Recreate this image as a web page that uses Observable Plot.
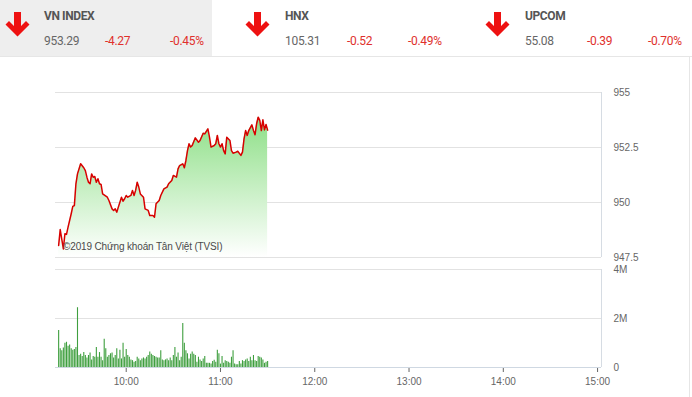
<!DOCTYPE html>
<html>
<head>
<meta charset="utf-8">
<script src="https://cdn.jsdelivr.net/npm/d3@7"></script>
<script src="https://cdn.jsdelivr.net/npm/@observablehq/plot@0.6"></script>
<style>
  html, body { margin: 0; padding: 0; }
  body { width: 692px; height: 397px; overflow: hidden; background: #fff; position: relative;
         font-family: Roboto, "Liberation Sans", Arial, sans-serif; }
  #hdr { position: absolute; left: 0; top: 0; width: 692px; height: 56px; border-bottom: 1px solid #e6e6e6; }
  .cell { position: absolute; top: 0; height: 56px; }
  .cell.active { background: #eeeeee; }
  .cell svg.arrow { position: absolute; left: 5px; top: 11px; }
  .name { position: absolute; left: 44px; top: 9px; font-size: 12px; font-weight: bold; color: #555; letter-spacing: -0.4px; }
  .val { position: absolute; top: 34px; font-size: 12px; color: #666; letter-spacing: -0.3px; }
  .chg { position: absolute; top: 34px; font-size: 12px; color: #e0302c; letter-spacing: -0.3px; }
  #border { position: absolute; left: 689px; top: 57px; width: 1px; height: 340px; background: #e6e6e6; }
  #price, #vol { position: absolute; left: 0; }
  #price { top: 80px; z-index: 2; }
  #vol { top: 260px; z-index: 1; }
  #wm { position: absolute; left: 63px; top: 241px; font-size: 10px; color: #4a4a4a; white-space: nowrap; z-index: 3;
        font-family: "Liberation Sans", Arial, sans-serif; letter-spacing: -0.15px; }
  svg text { font-family: "Liberation Sans", Arial, sans-serif; }
</style>
</head>
<body>
<div id="hdr"></div>
<div id="border"></div>
<div id="price"></div>
<div id="vol"></div>
<div id="wm">©2019 Chứng khoán Tân Việt (TVSI)</div>
<script>
// ---------- header data ----------
const indexNames = ["VN INDEX", "HNX", "UPCOM"];
const indexValues = ["953.29", "105.31", "55.08"];
const indexChanges = ["-4.27", "-0.52", "-0.39"];
const indexPercents = ["-0.45%", "-0.49%", "-0.70%"];

// ---------- price data (VN-Index intraday) ----------
const priceTimes = ["9:17","9:18","9:20","9:21","9:22","9:23","9:25","9:26","9:27","9:28","9:29","9:31","9:33","9:34","9:35","9:36","9:37","9:38","9:39","9:40","9:41","9:42","9:43","9:44","9:45","9:48","9:49","9:51","9:52","9:53","9:54","9:55","9:57","9:58","9:59","10:00","10:01","10:03","10:04","10:05","10:06","10:07","10:08","10:09","10:11","10:12","10:14","10:15","10:17","10:18","10:19","10:21","10:22","10:24","10:26","10:27","10:29","10:30","10:32","10:33","10:34","10:36","10:37","10:38","10:39","10:40","10:41","10:42","10:44","10:46","10:47","10:49","10:50","10:52","10:53","10:54","10:56","10:57","10:58","10:59","11:00","11:01","11:02","11:03","11:04","11:06","11:07","11:08","11:10","11:11","11:13","11:14","11:15","11:16","11:17","11:18","11:20","11:21","11:22","11:23","11:24","11:25","11:26","11:27","11:28","11:29","11:30"];
const priceValues = [948.05,948.77,947.89,948.58,948.55,948.88,949.49,949.82,949.86,950.85,951.30,951.76,951.58,951.45,951.15,950.92,950.85,951.30,951.15,951.18,950.92,951.08,950.85,950.82,950.39,950.24,950.09,949.71,949.64,949.71,949.56,949.79,950.24,950.06,950.17,950.32,950.24,950.32,950.55,950.32,950.55,950.92,950.70,950.39,950.24,949.71,949.64,949.41,949.41,949.33,949.94,950.09,950.32,950.62,950.70,950.85,951.00,951.23,951.15,951.53,951.68,951.76,951.58,951.91,952.36,952.67,952.52,952.59,952.94,952.74,952.82,953.15,953.12,953.35,952.97,952.52,952.59,952.67,953.05,952.67,952.52,952.67,952.36,952.21,952.97,952.82,952.36,952.24,952.29,952.33,952.14,952.29,952.89,953.27,953.05,953.27,953.53,953.27,953.08,953.58,953.88,953.73,953.27,953.76,953.30,953.55,953.29];

// ---------- volume data (millions, one bar per minute from 9:17) ----------
const volumeStart = "9:17";
const volumeValues = [1.51,0.77,0.68,0.80,0.99,1.03,0.87,0.92,0.77,0.70,0.73,0.82,2.44,0.49,0.54,0.45,0.61,0.49,0.39,0.49,0.59,0.31,0.45,0.42,0.82,0.42,0.61,0.42,0.28,1.15,0.77,0.42,0.49,0.56,0.59,0.39,0.49,0.77,0.35,0.70,0.35,0.99,0.42,0.73,0.49,0.42,0.31,0.28,0.21,0.25,0.42,0.35,0.28,0.35,0.39,0.35,0.42,0.49,0.63,0.54,0.49,0.45,0.42,0.39,0.39,0.68,0.31,0.28,0.31,0.35,0.28,0.39,0.28,0.49,0.82,0.42,0.59,0.28,0.42,1.80,0.99,0.68,0.56,0.35,0.54,0.63,0.54,0.49,0.21,0.42,0.31,0.25,0.35,0.45,0.17,0.17,0.17,0.14,0.25,0.30,0.21,0.70,0.56,0.14,0.45,0.17,0.28,0.25,0.21,0.17,0.42,0.68,0.14,0.11,0.11,0.25,0.14,0.28,0.25,0.31,0.35,0.25,0.42,0.28,0.49,0.28,0.25,0.45,0.42,0.39,0.31,0.17,0.21,0.25];

// ---------- axis ticks ----------
const priceTicks = [947.5, 950, 952.5, 955];
const volumeTicks = [0, 2, 4];
const timeTicks = ["10:00", "11:00", "12:00", "13:00", "14:00", "15:00"];
const sessionStart = "9:15";
const sessionEnd = "15:00";

// ---------- helpers ----------
const toDate = s => { const [h, m] = s.split(":").map(Number); return new Date(Date.UTC(2019, 0, 2, h, m)); };
const xDomain = [toDate(sessionStart), new Date(+toDate(sessionEnd) + 150000)];
const priceData = priceTimes.map((t, i) => ({time: toDate(t), value: priceValues[i]}));
const vStart = toDate(volumeStart);
const volData = volumeValues.map((v, i) => ({time: new Date(+vStart + i * 60000), value: v}));

// ---------- header ----------
const hdr = document.getElementById("hdr");
const cellLeft = [0, 240, 480];
const chgLeft = [[105, 170], [347, 408], [587, 648]];
indexNames.forEach((n, i) => {
  const c = document.createElement("div");
  c.className = "cell" + (i === 0 ? " active" : "");
  c.style.left = cellLeft[i] + "px";
  c.style.width = (i === 0 ? 212 : 200) + "px";
  c.innerHTML = `<svg class="arrow" width="26" height="28" viewBox="0 0 26 28">
     <path d="M9,1 H16 V15 L21,10 L24.5,13.5 L12.5,25.5 L0.5,13.5 L4,10 L9,15 Z" fill="#ee1111"/></svg>`;
  hdr.appendChild(c);
  const nm = document.createElement("div"); nm.className = "name"; nm.textContent = n;
  nm.style.left = (cellLeft[i] + 44 + (i ? 1 : 0)) + "px"; hdr.appendChild(nm);
  const v = document.createElement("div"); v.className = "val"; v.textContent = indexValues[i];
  v.style.left = (cellLeft[i] + 44 + (i ? 1 : 0)) + "px"; hdr.appendChild(v);
  const ch = document.createElement("div"); ch.className = "chg"; ch.textContent = indexChanges[i];
  ch.style.left = chgLeft[i][0] + "px"; hdr.appendChild(ch);
  const pc = document.createElement("div"); pc.className = "chg"; pc.textContent = indexPercents[i];
  pc.style.left = chgLeft[i][1] + "px"; hdr.appendChild(pc);
});

// ---------- price chart ----------
const pricePlot = Plot.plot({
  width: 692, height: 188,
  marginLeft: 55, marginRight: 91, marginTop: 12, marginBottom: 11,
  style: {background: "transparent", fontSize: "10px", color: "#666"},
  x: {type: "utc", domain: xDomain, axis: null},
  y: {domain: [947.5, 955], ticks: priceTicks, axis: "right", tickSize: 0, tickPadding: 12,
      tickFormat: d => String(d), label: null},
  marks: [
    Plot.ruleY(priceTicks, {stroke: "#e2e2e2", strokeWidth: 1}),
    Plot.ruleX([xDomain[1]], {stroke: "#d6dce3"}),
    Plot.areaY(priceData, {x: "time", y1: 947.5, y2: "value", fill: "url(#priceGrad)"}),
    Plot.lineY(priceData, {x: "time", y: "value", stroke: "#d80000", strokeWidth: 1.5})
  ]
});
const ps = d3.select(pricePlot);
const grad = ps.insert("defs", ":first-child").append("linearGradient")
  .attr("id", "priceGrad").attr("x1", 0).attr("y1", 0).attr("x2", 0).attr("y2", 1);
grad.append("stop").attr("offset", "0%").attr("stop-color", "#8ddf86");
grad.append("stop").attr("offset", "100%").attr("stop-color", "#ffffff");
document.getElementById("price").appendChild(pricePlot);

// ---------- volume chart ----------
const volPlot = Plot.plot({
  width: 692, height: 137,
  marginLeft: 55, marginRight: 91, marginTop: 9, marginBottom: 30,
  style: {background: "transparent", fontSize: "10px", color: "#666"},
  x: {type: "utc", domain: xDomain, ticks: timeTicks.map(toDate), tickFormat: d3.utcFormat("%H:%M"),
      tickSize: 5, tickPadding: 5, label: null},
  y: {domain: [0, 4], ticks: volumeTicks, axis: "right", tickSize: 0, tickPadding: 12,
      tickFormat: d => d === 0 ? "0" : d + "M", label: null},
  marks: [
    Plot.ruleY(volumeTicks.filter(d => d > 0), {stroke: "#e2e2e2"}),
    Plot.ruleX([xDomain[1]], {stroke: "#d6dce3"}),
    Plot.ruleX(volData, {x: "time", y1: 0, y2: "value", stroke: "#3f9f3f", strokeWidth: 1.1}),
    Plot.ruleY([0], {stroke: "#cfd8e2"})
  ]
});
d3.select(volPlot).selectAll("g[aria-label='x-axis'] line, g[aria-label='x-axis tick'] line").attr("stroke", "#cfd8e2");
document.getElementById("vol").appendChild(volPlot);
</script>
</body>
</html>
